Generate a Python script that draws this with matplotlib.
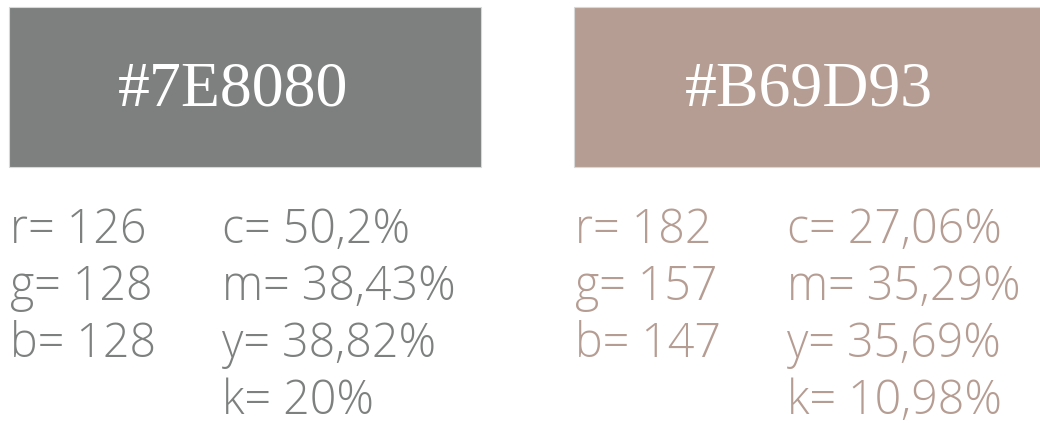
import matplotlib
matplotlib.use("Agg")
import matplotlib.pyplot as plt
from matplotlib.patches import Rectangle

hex_codes = ["#7E8080", "#B69D93"]
rgb_labels = [["r= 126", "g= 128", "b= 128"],
              ["r= 182", "g= 157", "b= 147"]]
cmyk_labels = [["c= 50,2%", "m= 38,43%", "y= 38,82%", "k= 20%"],
               ["c= 27,06%", "m= 35,29%", "y= 35,69%", "k= 10,98%"]]

W, H = 1040, 425
fig = plt.figure(figsize=(W / 100, H / 100), dpi=100)
ax = fig.add_axes([0, 0, 1, 1])
ax.set_xlim(0, W)
ax.set_ylim(H, 0)
ax.axis("off")

swatch_x = [9, 574]
swatch_w = [472, 470]
col2_dx = 213
row_y = [231, 288, 345, 402]

for i, code in enumerate(hex_codes):
    x0 = swatch_x[i]
    ax.add_patch(Rectangle((x0, 7), swatch_w[i], 160, facecolor=code,
                           edgecolor="#d8d8d8", linewidth=0.8))
    ax.text(x0 + swatch_w[i] / 2 - (12 if i == 0 else 0), 90, code,
            color="white", fontsize=46, family="Liberation Serif",
            ha="center", va="center")
    for j, lab in enumerate(rgb_labels[i]):
        ax.text(x0 + 1, row_y[j], lab, color=code, fontsize=33.5,
                family="Open Sans", weight=300, ha="left", va="center")
    for j, lab in enumerate(cmyk_labels[i]):
        ax.text(x0 + col2_dx, row_y[j], lab, color=code, fontsize=33.5,
                family="Open Sans", weight=300, ha="left", va="center")

fig.savefig("out.png", dpi=100)
